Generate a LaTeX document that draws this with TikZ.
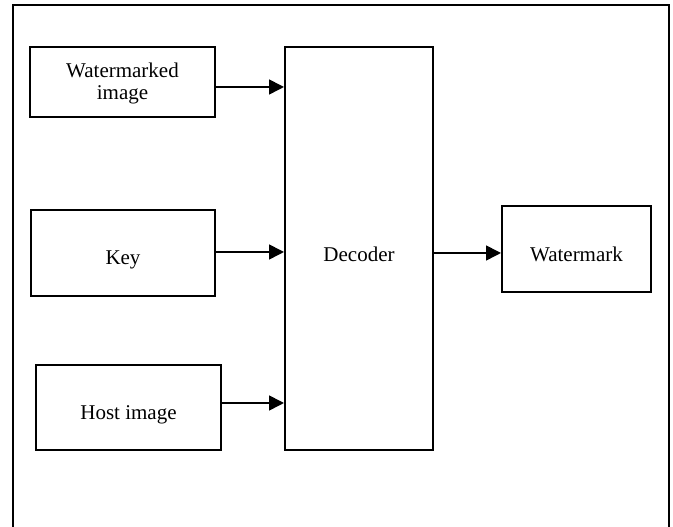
\documentclass[tikz,border=0pt]{standalone}
\usepackage{fontspec}
\setmainfont{Liberation Serif}
\usetikzlibrary{arrows.meta}
\newcommand{\lowr}[2]{\raisebox{-#1}[\height][\depth]{#2}}
\begin{document}
\begin{tikzpicture}[x=1pt,y=1pt,
  blk/.style={draw,line width=2pt,rectangle,inner sep=0pt,align=center,
    font=\fontsize{21}{24}\selectfont},
  conn/.style={line width=1.6pt,-{Triangle[length=15pt,width=15pt]}}]
\useasboundingbox (0,0) rectangle (673,527);
\draw[line width=2.2pt] (13,-5) -- (13,522) -- (669,522) -- (669,-5);
\node[blk,minimum width=185pt,minimum height=70pt] (wm) at (122.5,445) {\lowr{2pt}{\begin{tabular}{@{}c@{}}Watermarked\\[-2pt]image\end{tabular}}};
\node[blk,minimum width=184pt,minimum height=86pt] (key) at (123,274) {\lowr{7pt}{Key}};
\node[blk,minimum width=185pt,minimum height=85pt] (host) at (128.5,119.5) {\lowr{7pt}{Host image}};
\node[blk,minimum width=148pt,minimum height=403pt] (dec) at (359,278.5) {\lowr{6pt}{Decoder}};
\node[blk,minimum width=149pt,minimum height=86pt] (out) at (576.5,278) {\lowr{5pt}{Watermark}};
\draw[conn] ([yshift=-5pt]wm.east) -- ([yshift=-5pt]wm.east -| dec.west);
\draw[conn] ([yshift=1pt]key.east) -- ([yshift=1pt]key.east -| dec.west);
\draw[conn] ([yshift=4.5pt]host.east) -- ([yshift=4.5pt]host.east -| dec.west);
\draw[conn] ([yshift=-4pt]out.west -| dec.east) -- ([yshift=-4pt]out.west);
\end{tikzpicture}
\end{document}
